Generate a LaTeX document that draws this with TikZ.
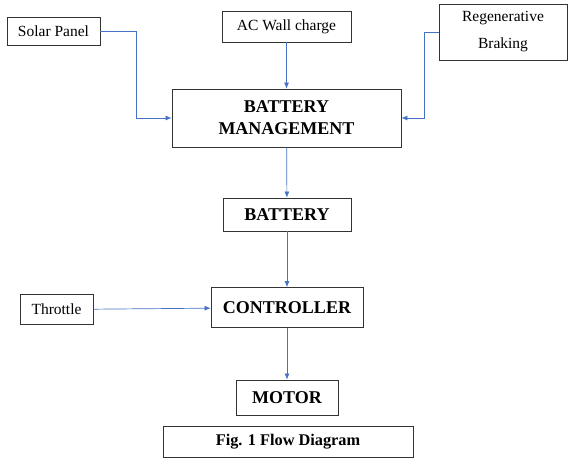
\documentclass[tikz,border=0pt]{standalone}
\usepackage{fontspec}
\setmainfont{Liberation Serif}
\usepackage{tikz}
\usetikzlibrary{arrows.meta,positioning,calc}
\definecolor{arrblue}{RGB}{68,114,196}

\begin{document}
\begin{tikzpicture}[
  x=1pt, y=-1pt,
  every node/.style={align=center},
  box/.style={draw=black!80, line width=0.8pt, inner sep=0pt,
              font=\fontsize{15.5}{27}\selectfont},
  bbox/.style={box, font=\fontsize{18}{22}\selectfont\bfseries},
  arr/.style={-{Latex[length=6pt,width=5pt]}, arrblue, line width=0.7pt},
]
  \useasboundingbox (0,0) rectangle (568,459);

  % Sources of charge
  \node[box, minimum width=93pt, minimum height=28pt]  (solar) at (53.5,31) {Solar Panel};
  \node[box, minimum width=129pt, minimum height=31pt] (ac)    at (286.5,26.5) {AC Wall charge};
  \node[box, minimum width=128pt, minimum height=56pt] (regen) at (503,32) {Regenerative\\Braking};

  % Main chain
  \node[bbox, minimum width=229pt, minimum height=58pt] (bms) at (286.5,118) {BATTERY\\MANAGEMENT};
  \node[bbox, minimum width=128pt, minimum height=33pt] (battery) at (287,214.5) {BATTERY};
  \node[bbox, minimum width=152pt, minimum height=40pt] (controller) at (287,307.5) {CONTROLLER};
  \node[box, minimum width=73pt, minimum height=30pt] (throttle) at (56.5,309.5) {Throttle};
  \node[bbox, minimum width=102pt, minimum height=35pt] (motor) at (287,397.5) {MOTOR};

  % Caption
  \node[box, font=\fontsize{16.3}{20}\selectfont\bfseries,
        minimum width=250pt, minimum height=31pt] (fig) at (288,441.5) {Fig. 1 Flow Diagram};

  % Connectors
  \draw[arr] (solar.east) -- ++(36,0) |- (bms.west);
  \draw[arr] (regen.west) -- ++(-14,0) |- (bms.east);
  \draw[arr] (ac) -- (bms);
  \draw[arr] (bms) -- (battery);
  \draw[arr] (battery) -- (controller);
  \draw[arr] (throttle) -- (controller);
  \draw[arr] (controller) -- (motor);
\end{tikzpicture}
\end{document}
